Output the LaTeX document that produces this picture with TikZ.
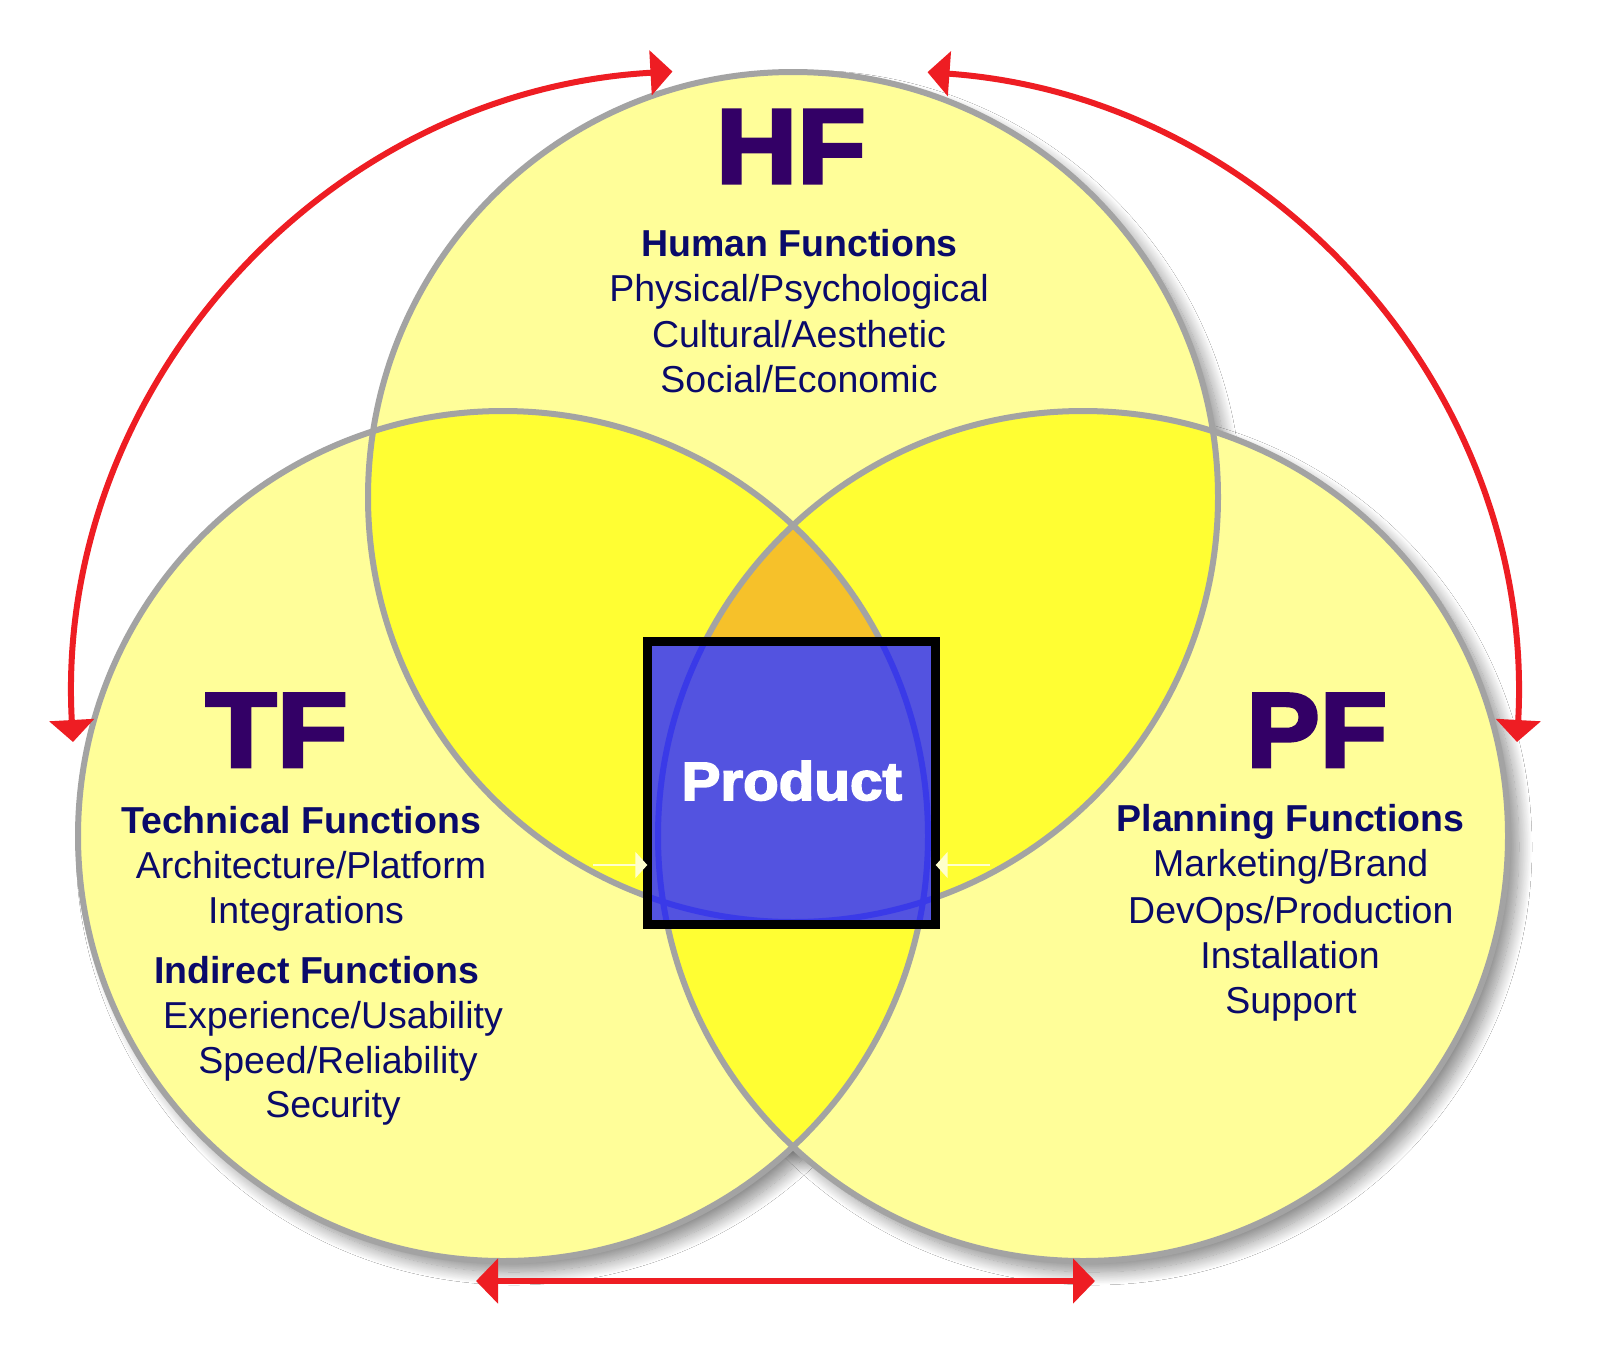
\documentclass[tikz,border=0pt]{standalone}
\usepackage{graphicx}
\usepackage{fontspec}
\setmainfont{Liberation Sans}
\newfontfamily\blackfont[UprightFont=* Bold,FakeBold=3]{Liberation Sans}
\usetikzlibrary{arrows.meta,shadows.blur}
\definecolor{lightY}{HTML}{FFFE99}
\definecolor{pairY}{HTML}{FFFE33}
\definecolor{tripO}{HTML}{F6C12A}
\definecolor{ringgray}{HTML}{A3A3A3}
\definecolor{arrowred}{HTML}{EE1D23}
\definecolor{bigpurple}{HTML}{330066}
\definecolor{navy}{HTML}{0A0A6A}
\definecolor{prodblue}{HTML}{5353E0}
\definecolor{inblue}{HTML}{3A3AE8}
\definecolor{faintY}{HTML}{FFFFCC}
\begin{document}
\begin{tikzpicture}[x=1pt,y=-1pt,
  ring/.style={draw=ringgray,line width=6pt},
  redarrow/.style={draw=arrowred,line width=6pt,{Triangle[length=22pt,width=44pt]}-{Triangle[length=22pt,width=44pt]}},
  faintarrow/.style={draw=faintY,line width=2pt,-{Triangle[length=12pt,width=26pt]}},
  bigl/.style={text=bigpurple,font=\blackfont\fontsize{106}{106}\selectfont,anchor=base,inner sep=0pt},
  headl/.style={text=navy,font=\bfseries\fontsize{37.5}{45}\selectfont,anchor=base,inner sep=0pt},
  iteml/.style={text=navy,font=\fontsize{37.5}{45}\selectfont,anchor=base,inner sep=0pt},
  prodl/.style={text=white,font=\blackfont\fontsize{54}{54}\selectfont,anchor=base,inner sep=0pt},
]
\useasboundingbox (0,0) rectangle (1600,1360);
\fill[white] (0,0) rectangle (1600,1360);
\coordinate (H) at (793,497);
\coordinate (T) at (503,836);
\coordinate (P) at (1083,836);
\def\R{425}
% shadows
\foreach \c in {H,T,P}
  \path[blur shadow={shadow xshift=11pt,shadow yshift=-11pt,shadow blur radius=13pt,shadow blur steps=20,shadow opacity=45}] (\c) circle[radius=\R];
% fills
\fill[lightY] (H) circle[radius=\R] (T) circle[radius=\R] (P) circle[radius=\R];
\begin{scope}
  \clip (H) circle[radius=\R];
  \fill[pairY] (T) circle[radius=\R] (P) circle[radius=\R];
\end{scope}
\begin{scope}
  \clip (T) circle[radius=\R];
  \fill[pairY] (P) circle[radius=\R];
\end{scope}
\begin{scope}
  \clip (H) circle[radius=\R];
  \clip (T) circle[radius=\R];
  \fill[tripO] (P) circle[radius=\R];
\end{scope}
% outlines
\draw[ring] (H) circle[radius=\R];
\draw[ring] (T) circle[radius=\R];
\draw[ring] (P) circle[radius=\R];
% product box
\node[fill=prodblue,minimum width=288pt,minimum height=283pt,inner sep=0pt] (box) at (791.5,783) {};
\begin{scope}
  \clip (box.south west) rectangle (box.north east);
  \draw[inblue,line width=6pt] (H) circle[radius=\R] (T) circle[radius=\R] (P) circle[radius=\R];
\end{scope}
\draw[line width=9.5pt] (box.south west) rectangle (box.north east);
\node[prodl] (prod) at (791.7,800) {\scalebox{1.08}[1]{Product}};
% faint arrows
\coordinate (fl) at (593,865);
\coordinate (fr) at (990,865);
\draw[faintarrow] (fl) -- (fl -| box.west);
\draw[faintarrow] (fr) -- (fr -| box.east);
% red arrows
\coordinate (la) at (73,742);
\coordinate (ra) at (1517,742);
\coordinate (ba) at (476,1281);
\coordinate (bb) at (1095,1281);
\draw[redarrow] (la) arc[start angle=176.8,end angle=266.8,radius=636];
\draw[redarrow] (ra) arc[start angle=3.2,end angle=-85.9,radius=636];
\draw[redarrow] (ba) -- (bb);
% texts
\node[bigl] (hf) at (791,183) {\scalebox{1.06}[1]{HF}};
\node[headl] (hf1) at (799.5,256.7) {Human Functions};
\node[iteml] (hf2) at (799,301.7) {Physical/Psychological};
\node[iteml] (hf3) at (799,347) {Cultural/Aesthetic};
\node[iteml] (hf4) at (799,392) {Social/Economic};
\node[bigl] (tf) at (276.7,766.7) {\scalebox{1.1}[1]{TF}};
\node[headl] (tf1) at (301,833) {Technical Functions};
\node[iteml] (tf2) at (311,878) {Architecture/Platform};
\node[iteml] (tf3) at (306,923) {Integrations};
\node[headl] (tf4) at (316.7,983) {Indirect Functions};
\node[iteml] (tf5) at (333,1028) {Experience/Usability};
\node[iteml] (tf6) at (338,1073) {Speed/Reliability};
\node[iteml] (tf7) at (333,1117) {Security};
\node[bigl] (pf) at (1316.7,766.7) {\scalebox{1.04}[1]{PF}};
\node[headl] (pf1) at (1290.5,831.7) {Planning Functions};
\node[iteml] (pf2) at (1290.8,876.7) {Marketing/Brand};
\node[iteml] (pf3) at (1290.8,923) {DevOps/Production};
\node[iteml] (pf4) at (1290,968) {Installation};
\node[iteml] (pf5) at (1291,1013) {Support};
\end{tikzpicture}
\end{document}
